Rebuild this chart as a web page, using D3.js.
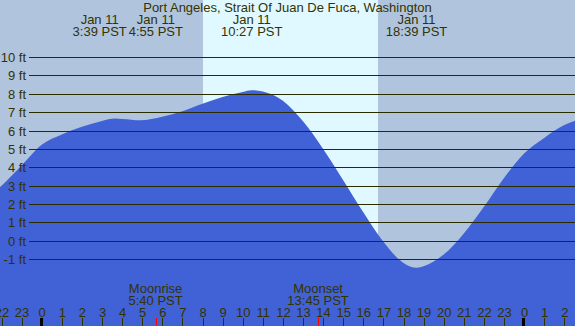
<!DOCTYPE html>
<html>
<head>
<meta charset="utf-8">
<script src="https://cdn.jsdelivr.net/npm/d3@7"></script>
<style>
  html, body { margin: 0; padding: 0; background: #b0c4de; }
  svg { display: block; }
  text { font-family: "Liberation Sans", Arial, sans-serif; font-size: 13px; fill: #333300; }
</style>
</head>
<body>
<svg id="chart" width="575" height="326"></svg>
<script>
// ---- data (hours relative to Jan 11 00:00 PST, heights in ft) ----
const title = "Port Angeles, Strait Of Juan De Fuca, Washington";
const tideHours   = [-2.1, -2, -1, 0, 1, 2, 3, 3.65, 4, 4.92, 6, 7, 8, 9, 10, 10.45, 11, 12, 13, 14, 15, 16, 17, 18, 18.65, 19, 20, 21, 22, 23, 24, 25, 26, 26.6];
const tideHeights = [2.9, 3.0, 4.1, 5.22, 5.78, 6.2, 6.52, 6.65, 6.63, 6.56, 6.75, 7.05, 7.45, 7.83, 8.1, 8.19, 8.12, 7.62, 6.5, 5.0, 3.3, 1.55, -0.05, -1.2, -1.46, -1.38, -0.75, 0.4, 1.85, 3.42, 4.75, 5.6, 6.3, 6.55];
const extremeHours  = [3.65, 4.9167, 10.45, 18.65];
const extremeDates  = ["Jan 11", "Jan 11", "Jan 11", "Jan 11"];
const extremeLabels = ["3:39 PST", "4:55 PST", "10:27 PST", "18:39 PST"];
const daylight = [8.02, 16.73];             // sunrise, sunset
const moonEvents = ["Moonrise", "Moonset"];
const moonHours  = [5.6667, 13.75];
const moonLabels = ["5:40 PST", "13:45 PST"];
const feetTicks  = [-1, 0, 1, 2, 3, 4, 5, 6, 7, 8, 9, 10];
const hourTicks  = d3.range(-2, 27);

// ---- layout ----
const W = 575, H = 326;
const x = d3.scaleLinear().domain([0, 24]).range([41.7, 524.1]);
const y = d3.scaleLinear().domain([-1, 10]).range([259.2, 57.0]);
const svg = d3.select("#chart");

// background & daylight
svg.append("rect").attr("width", W).attr("height", H).attr("fill", "#b0c4de");
svg.append("rect")
  .attr("x", Math.round(x(daylight[0])))
  .attr("y", 0)
  .attr("width", Math.round(x(daylight[1])) - Math.round(x(daylight[0])))
  .attr("height", H)
  .attr("fill", "#e0f8ff");

// water
const pts = tideHours.map((h, i) => [h, tideHeights[i]]);
const area = d3.area()
  .x(d => x(d[0]))
  .y0(H)
  .y1(d => y(d[1]))
  .curve(d3.curveMonotoneX);
svg.append("path").datum(pts).attr("d", area).attr("fill", "#4161d6");

// horizontal grid lines & labels
const g = svg.append("g");
feetTicks.forEach(f => {
  const yy = Math.round(y(f)) + 0.5;
  g.append("line").attr("x1", 29).attr("x2", W).attr("y1", yy).attr("y2", yy)
    .attr("stroke", "#2b2b00").attr("stroke-width", 1);
  g.append("text").attr("x", 26).attr("y", yy + 4.5).attr("text-anchor", "end").text(f + " ft");
});

// title
svg.append("text").attr("x", W / 2).attr("y", 12).attr("text-anchor", "middle").text(title);

// tide extreme labels with overlap avoidance
const tl = extremeHours.map((h, i) => ({ cx: x(h), date: extremeDates[i], label: extremeLabels[i] }));
const tg = svg.append("g");
tl.forEach(d => {
  d.g = tg.append("g");
  d.t1 = d.g.append("text").attr("text-anchor", "middle").attr("y", 23.5).text(d.date);
  d.t2 = d.g.append("text").attr("text-anchor", "middle").attr("y", 35.5).text(d.label);
  d.w = Math.max(d.t1.node().getComputedTextLength(), d.t2.node().getComputedTextLength());
});
for (let i = 0; i < tl.length - 1; i++) {
  const a = tl[i], b = tl[i + 1];
  const need = (a.w + b.w) / 2 + 2;
  if (b.cx - a.cx < need) {
    const mid = (a.cx + b.cx) / 2;
    a.cx = mid - need / 2; b.cx = mid + need / 2;
  }
}
tl.forEach(d => { d.t1.attr("x", d.cx); d.t2.attr("x", d.cx); });

// moon labels
moonHours.forEach((h, i) => {
  svg.append("text").attr("x", x(h)).attr("y", 293).attr("text-anchor", "middle").text(moonEvents[i]);
  svg.append("text").attr("x", x(h)).attr("y", 304.5).attr("text-anchor", "middle").text(moonLabels[i]);
});

// hour axis
const axis = d3.axisBottom(x).tickValues(hourTicks).tickSize(0).tickPadding(0)
  .tickFormat(h => String(((h % 24) + 24) % 24));
const ag = svg.append("g").attr("transform", "translate(0,305)").call(axis);
ag.select(".domain").remove();
ag.selectAll("text").attr("font-size", 13).attr("font-family", null).attr("fill", "#333300").attr("dy", 0).attr("y", 11.5);
hourTicks.forEach(h => {
  const xx = Math.round(x(h));
  const midnight = (((h % 24) + 24) % 24) === 0;
  if (midnight) {
    svg.append("rect").attr("x", xx - 2).attr("y", 318).attr("width", 3).attr("height", 8).attr("fill", "#000000");
  } else {
    svg.append("rect").attr("x", xx).attr("y", 318).attr("width", 1).attr("height", 8).attr("fill", "#333300");
  }
});
moonHours.forEach(h => {
  svg.append("rect").attr("x", Math.round(x(h))).attr("y", 318).attr("width", 1).attr("height", 8).attr("fill", "#ff0000");
});
</script>
</body>
</html>
